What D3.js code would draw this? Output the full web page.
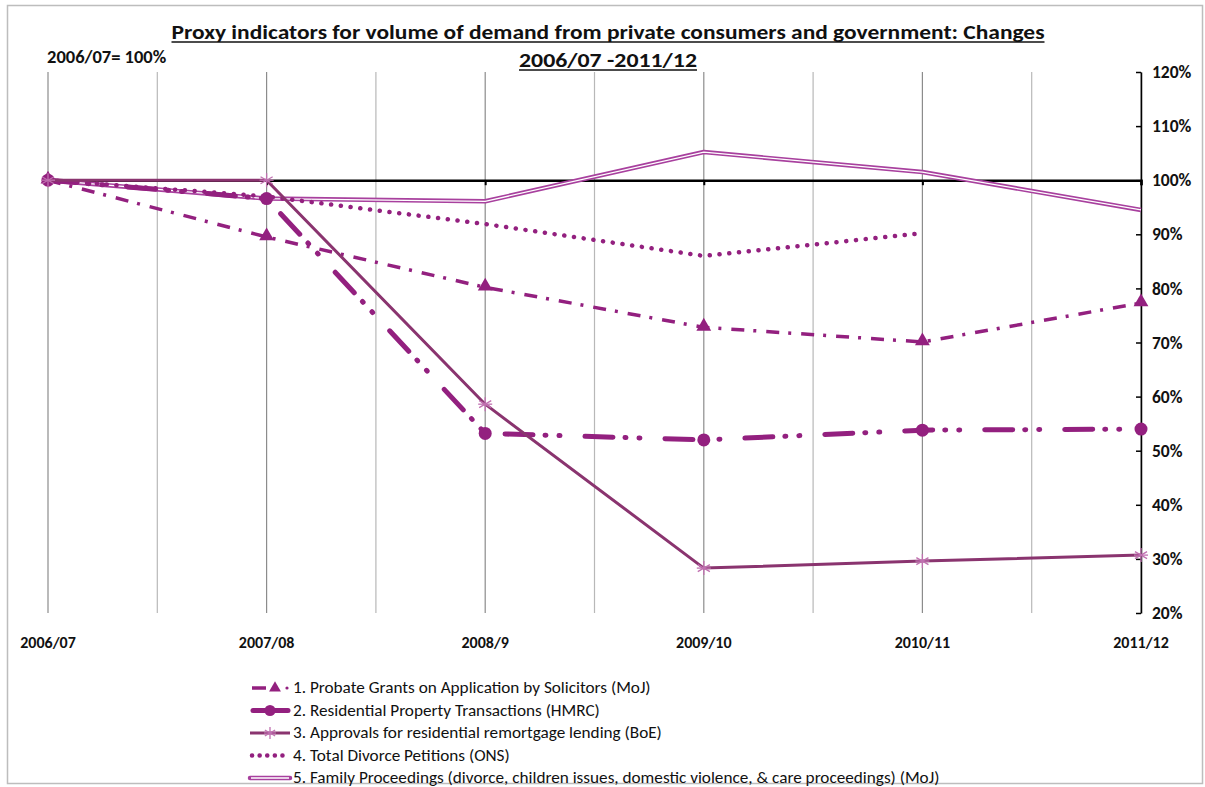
<!DOCTYPE html>
<html>
<head>
<meta charset="utf-8">
<script src="https://cdn.jsdelivr.net/npm/d3@7"></script>
<style>
  body { margin: 0; background: #fff; }
  text { font-family: "Carlito", "Liberation Sans Narrow", "DejaVu Sans Condensed", sans-serif; fill: #111; }
</style>
</head>
<body>
<div id="chart"></div>
<script>
// categories and series (index, 2006/07 = 100)
const categories = ["2006/07", "2007/08", "2008/9", "2009/10", "2010/11", "2011/12"];
const probate    = [100, 89.5, 80.2, 72.8, 70.1, 77.3];
const property   = [100, 96.6, 53.2, 52.0, 53.8, 54.0];
const remortgage = [100, 100, 58.6, 28.3, 29.6, 30.7];
const divorce    = [100, 97.0, 91.9, 86.0, 90.2, null];
const family     = [100, 96.6, 96.1, 105.2, 101.5, 94.5];
const yTicks = [20, 30, 40, 50, 60, 70, 80, 90, 100, 110, 120];
const seriesNames = [
  "1. Probate Grants on Application  by Solicitors  (MoJ)",
  "2. Residential Property Transactions  (HMRC)",
  "3. Approvals for residential remortgage lending (BoE)",
  "4. Total Divorce Petitions (ONS)",
  "5. Family Proceedings (divorce, children issues, domestic violence, & care proceedings) (MoJ)"
];

const width = 1205, height = 787;
const svg = d3.select('#chart').append('svg')
  .attr('width', width).attr('height', height);

// chart border
svg.append('rect').attr('x', 7.5).attr('y', 5.5).attr('width', 1195).attr('height', 778)
  .attr('fill', 'none').attr('stroke', '#bdbdbd').attr('stroke-width', 1.5);

let x = d3.scalePoint().domain(categories).range([48, 1141]);
let y = d3.scaleLinear().domain([20, 120]).range([613, 72]);

// vertical gridlines, on categories and midway between
let gridX = [];
categories.forEach((c, i) => {
  gridX.push({ pos: x(c), major: true });
  if (i < categories.length - 1) gridX.push({ pos: (x(c) + x(categories[i + 1])) / 2, major: false });
});
svg.append('g').selectAll('line').data(gridX).join('line')
  .attr('x1', d => d.pos).attr('x2', d => d.pos)
  .attr('y1', y(120)).attr('y2', y(20))
  .attr('stroke', d => d.major ? '#8c8c8c' : '#b8b8b8')
  .attr('stroke-width', 1.2);

// right value axis
let yAxis = d3.axisRight(y).tickValues(yTicks).tickFormat(d => d + '%').tickSize(0).tickPadding(11);
let gy = svg.append('g').attr('transform', `translate(${x(categories[categories.length - 1])},0)`).call(yAxis);
gy.select('.domain').attr('stroke', '#000').attr('stroke-width', 1.5);
gy.selectAll('.tick').append('line').attr('x1', -5).attr('x2', 0).attr('stroke', '#000').attr('stroke-width', 1.5);
gy.selectAll('text').style('font-size', '17.5px').style('font-weight', 'bold')
  .style('font-family', '"Carlito", "Liberation Sans Narrow", "DejaVu Sans Condensed", sans-serif').attr('fill', '#111');

// category axis crossing at 100%
let xAxis = d3.axisBottom(x).tickSize(5).tickFormat('');
let gx = svg.append('g').attr('transform', `translate(0,${y(100)})`).call(xAxis);
gx.select('.domain').attr('stroke', '#000').attr('stroke-width', 2.5);
gx.selectAll('.tick line').attr('stroke', '#000').attr('stroke-width', 2);

// category labels at the bottom
svg.append('g').selectAll('text').data(categories).join('text')
  .attr('x', d => x(d)).attr('y', 648)
  .attr('text-anchor', 'middle')
  .style('font-size', '16px').style('font-weight', 'bold')
  .text(d => d);

// title
let titleLines = ["Proxy indicators for volume of demand from private consumers and government: Changes", "2006/07 -2011/12"];
let titleWidths = [873, 178];
titleLines.forEach((t, i) => {
  let ty = 39 + i * 28;
  svg.append('text').attr('x', 608).attr('y', ty).attr('text-anchor', 'middle')
    .attr('textLength', titleWidths[i]).attr('lengthAdjust', 'spacingAndGlyphs')
    .style('font-size', '20px').style('font-weight', 'bold').text(t);
  svg.append('line').attr('x1', 608 - titleWidths[i] / 2).attr('x2', 608 + titleWidths[i] / 2)
    .attr('y1', ty + 3).attr('y2', ty + 3).attr('stroke', '#111').attr('stroke-width', 1.6);
});
svg.append('text').attr('x', 47).attr('y', 63).style('font-size', '18.5px').style('font-weight', 'bold')
  .text('2006/07= 100%');

// series styles
const purple = '#93207f';
let styles = [
  { data: probate, color: purple, width: 3.5, dash: '13,9,3,10', cap: 'butt', marker: 'triangle' },
  { data: property, color: purple, width: 5, dash: '28,12,1,13,1,25', cap: 'round', marker: 'circle' },
  { data: remortgage, color: '#8a346f', width: 3, dash: null, cap: 'butt', marker: 'star' },
  { data: divorce, color: purple, width: 4.5, dash: '0.1,9.7', cap: 'round', marker: null },
  { data: family, color: '#a8409e', width: 4.5, dash: null, cap: 'butt', marker: null, double: true }
];

let line = d3.line()
  .defined(d => d.v !== null)
  .x(d => x(d.c)).y(d => y(d.v));

function drawMarker(g, type, cx, cy, color, scale) {
  let k = scale || 1;
  if (type === 'triangle') {
    g.append('path').attr('d', d3.symbol().type(d3.symbolTriangle).size(95 * k * k)())
      .attr('transform', `translate(${cx},${cy - 1})`).attr('fill', color);
  } else if (type === 'circle') {
    g.append('circle').attr('cx', cx).attr('cy', cy).attr('r', 6.5 * k).attr('fill', color);
  } else if (type === 'star') {
    let r = 7 * k;
    [0, 60, 120].forEach(a => {
      let rad = a * Math.PI / 180;
      g.append('line')
        .attr('x1', cx - r * Math.sin(rad)).attr('y1', cy - r * Math.cos(rad))
        .attr('x2', cx + r * Math.sin(rad)).attr('y2', cy + r * Math.cos(rad))
        .attr('stroke', '#c070b0').attr('stroke-width', 1.3);
    });
    g.append('line').attr('x1', cx - r).attr('x2', cx + r).attr('y1', cy).attr('y2', cy)
      .attr('stroke', '#c070b0').attr('stroke-width', 1.3);
  }
}

let drawOrder = [4, 3, 0, 1, 2];
drawOrder.forEach(i => {
  let s = styles[i];
  let pts = categories.map((c, j) => ({ c: c, v: s.data[j] }));
  let g = svg.append('g').attr('class', 'series');
  let p = g.append('path').datum(pts).attr('d', line)
    .attr('fill', 'none').attr('stroke', s.color).attr('stroke-width', s.width)
    .attr('stroke-linecap', s.cap).attr('stroke-linejoin', 'round');
  if (s.dash) p.attr('stroke-dasharray', s.dash);
  if (s.double) {
    g.append('path').datum(pts).attr('d', line)
      .attr('fill', 'none').attr('stroke', '#fff').attr('stroke-width', 1.3);
  }
  if (s.marker) {
    pts.filter(d => d.v !== null).forEach(d => drawMarker(g, s.marker, x(d.c), y(d.v), s.color));
  }
});

// legend
let legend = svg.append('g').attr('transform', 'translate(250,0)');
styles.forEach((s, i) => {
  let ly = 688 + i * 22.5;
  let g = legend.append('g');
  if (i === 0) {
    g.append('line').attr('x1', 2).attr('x2', 16).attr('y1', ly).attr('y2', ly)
      .attr('stroke', s.color).attr('stroke-width', s.width);
    g.append('circle').attr('cx', 37).attr('cy', ly).attr('r', 1.6).attr('fill', s.color);
    drawMarker(g, 'triangle', 25, ly + 1, s.color, 0.8);
  } else if (i === 1) {
    g.append('line').attr('x1', 3).attr('x2', 38).attr('y1', ly).attr('y2', ly)
      .attr('stroke', s.color).attr('stroke-width', s.width).attr('stroke-linecap', 'round');
    drawMarker(g, 'circle', 20, ly, s.color, 0.85);
  } else if (i === 2) {
    g.append('line').attr('x1', 0).attr('x2', 40).attr('y1', ly).attr('y2', ly)
      .attr('stroke', s.color).attr('stroke-width', s.width);
    drawMarker(g, 'star', 20, ly, s.color, 0.85);
  } else if (i === 3) {
    g.append('line').attr('x1', 2).attr('x2', 40).attr('y1', ly).attr('y2', ly)
      .attr('stroke', s.color).attr('stroke-width', s.width)
      .attr('stroke-linecap', 'round').attr('stroke-dasharray', '0.1,7.5');
  } else {
    g.append('line').attr('x1', 0).attr('x2', 40).attr('y1', ly).attr('y2', ly)
      .attr('stroke', s.color).attr('stroke-width', s.width).attr('stroke-linecap', 'round');
    g.append('line').attr('x1', 1).attr('x2', 39).attr('y1', ly).attr('y2', ly)
      .attr('stroke', '#fff').attr('stroke-width', 1.3);
  }
  g.append('text').attr('x', 43).attr('y', ly + 5)
    .style('font-size', '17.2px')
    .text(seriesNames[i]);
});
</script>
</body>
</html>
